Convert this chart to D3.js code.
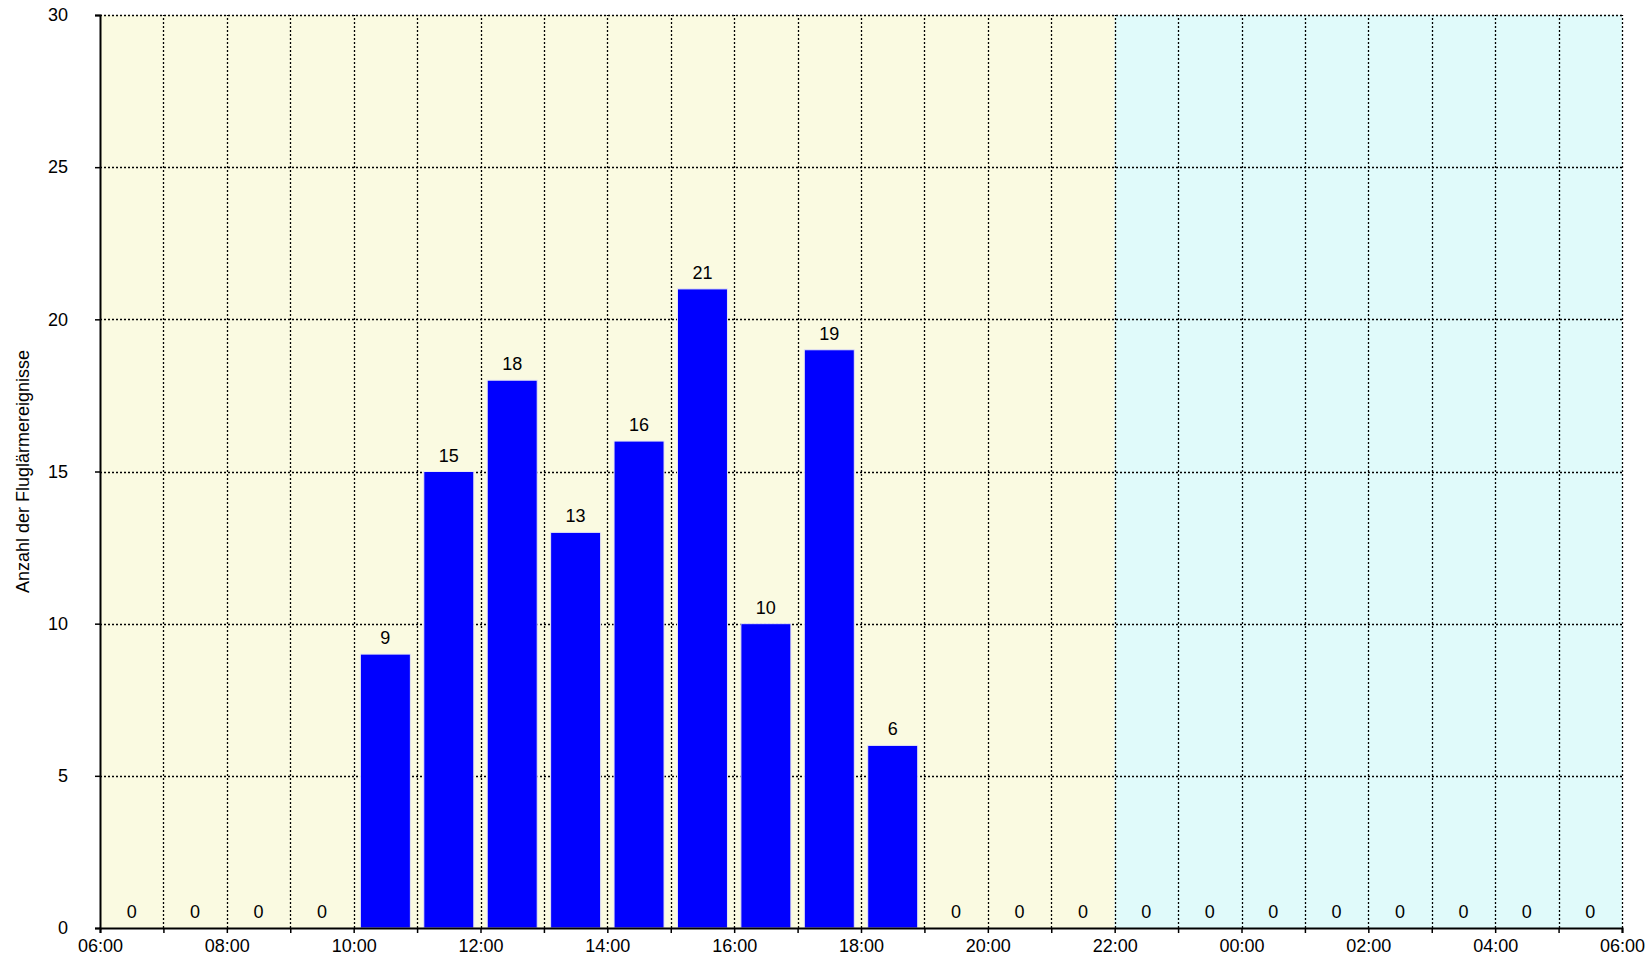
<!DOCTYPE html>
<html lang="de">
<head>
<meta charset="utf-8">
<title>Fluglärmereignisse</title>
<script src="https://d3js.org/d3.v7.min.js"></script>
<style>
  body { margin: 0; background: #fff; }
  text { font-family: "Liberation Sans", Arial, sans-serif; fill: #000; }
</style>
</head>
<body>
<script>
// data
var hours = ["06","07","08","09","10","11","12","13","14","15","16","17",
             "18","19","20","21","22","23","00","01","02","03","04","05"];
var counts = [0,0,0,0,9,15,18,13,16,21,10,19,6,0,0,0,0,0,0,0,0,0,0,0];
var xTickLabels = ["06:00","08:00","10:00","12:00","14:00","16:00","18:00",
                   "20:00","22:00","00:00","02:00","04:00","06:00"];
var yTicks = [0,5,10,15,20,25,30];
var dayHours = 16; // 06:00 - 22:00

var W = 1649, H = 956;
var plotL = 100, plotR = 1622, plotT = 15, plotB = 928;

var svg = d3.select("body").append("svg")
  .attr("width", W).attr("height", H);

var x = d3.scaleLinear().domain([0, 24]).range([plotL, plotR]);
var y = d3.scaleLinear().domain([0, 30]).range([plotB, plotT]);

// backgrounds
svg.append("rect")
  .attr("x", x(0)).attr("y", y(30))
  .attr("width", x(dayHours) - x(0)).attr("height", y(0) - y(30))
  .attr("fill", "#fafae1");
svg.append("rect")
  .attr("x", x(dayHours)).attr("y", y(30))
  .attr("width", x(24) - x(dayHours)).attr("height", y(0) - y(30))
  .attr("fill", "#e0fafa");

// grid
var grid = svg.append("g")
  .attr("stroke", "#000").attr("stroke-width", 1.3)
  .attr("stroke-dasharray", "2,2");
grid.selectAll("line.h").data(yTicks.filter(function(d){ return d > 0; }))
  .enter().append("line")
  .attr("x1", x(0)).attr("x2", x(24))
  .attr("y1", function(d){ return Math.round(y(d)) + 0.5; })
  .attr("y2", function(d){ return Math.round(y(d)) + 0.5; });
grid.selectAll("line.v").data(d3.range(1, 25))
  .enter().append("line")
  .attr("y1", y(0)).attr("y2", y(30))
  .attr("x1", function(d){ return Math.round(x(d)) + 0.5; })
  .attr("x2", function(d){ return Math.round(x(d)) + 0.5; });

// bars
var bw = 50;
svg.selectAll("rect.bar").data(counts)
  .enter().append("rect")
  .attr("class", "bar")
  .attr("x", function(d, i){ return x(i + 0.5) - bw / 2; })
  .attr("y", function(d){ return y(d); })
  .attr("width", bw)
  .attr("height", function(d){ return y(0) - y(d); })
  .attr("fill", "#0000ff")
  .attr("stroke", function(d){ return d > 0 ? "#e8e8f0" : "none"; })
  .attr("stroke-width", 1);

// value labels
svg.selectAll("text.val").data(counts)
  .enter().append("text")
  .attr("x", function(d, i){ return x(i + 0.5); })
  .attr("y", function(d){ return y(d) - 10; })
  .attr("text-anchor", "middle")
  .style("font-size", "18px")
  .text(function(d){ return d; });

// axes
var yAxis = d3.axisLeft(y).tickValues(yTicks).tickSize(5).tickPadding(27);
var gy = svg.append("g").attr("transform", "translate(" + plotL + ",0)").call(yAxis);
gy.select(".domain").attr("stroke-width", 2);
gy.selectAll(".tick line").attr("stroke-width", 1.5);
gy.selectAll("text").style("font-size", "18px").attr("font-family", null);

var xAxis = d3.axisBottom(x).tickValues(d3.range(0, 25)).tickSize(5)
  .tickFormat(function(d){ return d % 2 === 0 ? xTickLabels[d / 2] : ""; })
  .tickPadding(6);
var gx = svg.append("g").attr("transform", "translate(0," + plotB + ")").call(xAxis);
gx.select(".domain").attr("stroke-width", 2);
gx.selectAll(".tick line").attr("stroke-width", 1.5);
gx.selectAll("text").style("font-size", "18px").attr("font-family", null);

// y title
svg.append("text")
  .attr("transform", "translate(29," + ((plotT + plotB) / 2) + ") rotate(-90)")
  .attr("text-anchor", "middle")
  .style("font-size", "18px")
  .text("Anzahl der Fluglärmereignisse");
</script>
</body>
</html>
